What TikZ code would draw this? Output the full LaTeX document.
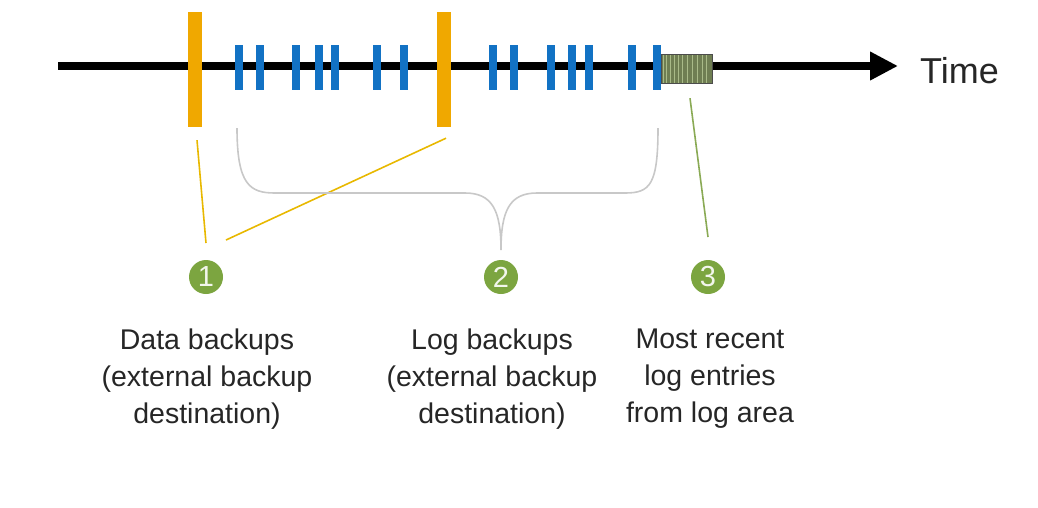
\documentclass[tikz,border=0pt]{standalone}
\usepackage{fontspec}
\setmainfont{Liberation Sans}
\usetikzlibrary{arrows.meta}
\definecolor{obar}{HTML}{F0A800}
\definecolor{btick}{HTML}{1272C4}
\definecolor{gcirc}{HTML}{7CA540}
\definecolor{gbox}{HTML}{6F7E52}
\definecolor{gstripe}{HTML}{A9BA88}
\definecolor{bracegray}{HTML}{C8C8C8}
\definecolor{oline}{HTML}{E8B800}
\definecolor{gline}{HTML}{8AAA55}
\tikzset{
  databar/.style={fill=obar, draw=none, minimum width=14pt, minimum height=115pt, inner sep=0pt},
  logtick/.style={fill=btick, draw=none, minimum width=8pt, minimum height=45pt, inner sep=0pt},
  axisline/.style={line width=8.5pt, -{Triangle[length=28pt,width=27pt]}},
  num/.style={circle, fill=gcirc, minimum size=34pt, inner sep=0pt, text=white!90!gcirc, font=\fontsize{29}{29}\selectfont},
  caption/.style={align=center, anchor=north, font=\fontsize{28.5}{37}\selectfont, text=black!85},
  olink/.style={oline, line width=1.6pt},
  glink/.style={gline, line width=1.6pt},
  bracket/.style={bracegray, line width=1.6pt},
}
\begin{document}
\begin{tikzpicture}[x=1pt,y=-1pt]
\useasboundingbox (0,0) rectangle (1038,507);
% axis
\coordinate (start) at (58,66);
\coordinate (end) at (898,66);
\draw[axisline] (start) -- (end);
\node[anchor=base west, inner sep=0pt, font=\fontsize{36}{36}\selectfont, text=black!85] (time) at (920,83) {Time};
% log ticks
\foreach \i/\x in {1/239,2/260,3/296,4/319,5/335,6/377,7/404,8/493,9/514,10/551,11/572,12/589,13/632,14/657}
  \node[logtick] (t\i) at (\x,67.5) {};
% data backups
\node[databar] (d1) at (195,69.5) {};
\node[databar] (d2) at (444,69.5) {};
% recent log entries box
\node[fill=gbox, minimum width=50pt, minimum height=28pt, inner sep=0pt] (recent) at (687,69) {};
\foreach \k in {2,5,9,13,17,21,26,31,36,41,45}
  \draw[gstripe, line width=1.2pt] ([xshift=\k pt]recent.north west) -- ([xshift=\k pt]recent.south west);
\draw[black!70, line width=1pt] (recent.north west) rectangle (recent.south east);
% numbers
\node[num] (c1) at (206,277) {1};
\node[num] (c2) at (501,277) {2};
\node[num] (c3) at (708,277) {3};
% connectors
\draw[olink] ([shift={(2,13)}]d1.south) -- ([shift={(0,-34)}]c1.center);
\draw[olink] ([shift={(2,11)}]d2.south) -- ([shift={(20,-37)}]c1.center);
\draw[glink] ([shift={(3,15)}]recent.south) -- ([shift={(0,-40)}]c3.center);
% bracket
\coordinate (bl) at (237,128);
\coordinate (br) at (658,128);
\coordinate (bm) at (501,250);
\draw[bracket] (bl) .. controls (237,185) and (250,193) .. (275,193)
  -- (465,193) .. controls (492,193) and (501,210) .. (bm)
  .. controls (501,210) and (510,193) .. (537,193)
  -- (625,193) .. controls (650,193) and (658,185) .. (br);
% captions
\node[caption] (cap1) at (207,325) {Data backups\\(external backup\\destination)};
\node[caption] (cap2) at (492,325) {Log backups\\(external backup\\destination)};
\node[caption] (cap3) at (710,325) {Most recent\\log entries\\from log area};
\end{tikzpicture}
\end{document}
